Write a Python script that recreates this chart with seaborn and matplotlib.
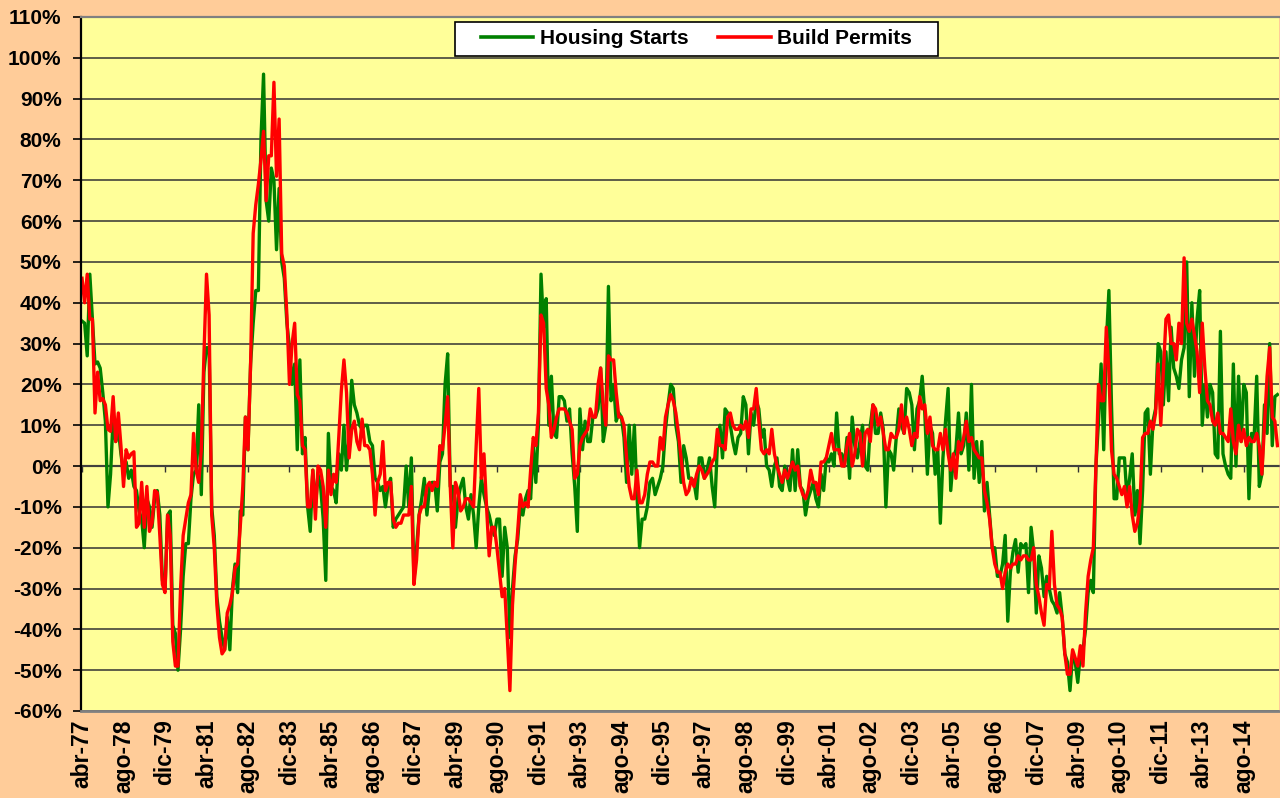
import numpy as np
import pandas as pd
import seaborn as sns
import matplotlib.pyplot as plt
from matplotlib.patches import Rectangle

# year-on-year change (%), monthly, abr-77 .. sep-15
tick_labels = ['abr-77', 'ago-78', 'dic-79', 'abr-81', 'ago-82', 'dic-83', 'abr-85',
               'ago-86', 'dic-87', 'abr-89', 'ago-90', 'dic-91', 'abr-93', 'ago-94',
               'dic-95', 'abr-97', 'ago-98', 'dic-99', 'abr-01', 'ago-02', 'dic-03',
               'abr-05', 'ago-06', 'dic-07', 'abr-09', 'ago-10', 'dic-11', 'abr-13',
               'ago-14']

housing_starts = [
    35.5, 35, 27, 47, 36, 25, 25.5, 24, 18, 11, -10, -2,
    12, 6, 9, 3, -2, 1, -3, -1, -5, -6, -11, -13,
    -20, -8, -10, -15, -8, -6, -12, -28, -30, -12, -11, -39,
    -41, -50, -40, -27, -19, -19, -8, -2, -1, 15, -7, 23,
    29, 29, -10, -17, -32, -38, -42, -45, -37, -45, -30, -24,
    -31, -11, -12, 12, 4, 25, 35, 43, 43, 80, 96, 65,
    60, 73, 70, 53, 68, 50, 46, 35, 29, 20, 25, 4,
    26, 3, 7, -10, -16, -1, -10, -2, -5, -13, -28, 8,
    -5, -6, -9, 3, -1, 10, -1, 7, 21, 15, 13, 10,
    9, 10, 10, 6, 5, -3, -4, -6, -5, -10, -5, -3,
    -15, -13, -12, -11, -10, 0, -10, 2, -28, -20, -12, -8,
    -3, -12, -5, -4, -4, -11, 1, 3, 20, 27.5, -5, -5,
    -15, -8, -5, -3, -10, -13, -7, -12, -20, -10, -3, -7,
    -10, -12, -15, -17, -13, -13, -27, -15, -20, -42, -30, -22,
    -18, -10, -12, -8, -6, -8, 5, -4, 10, 47, 34, 41,
    10, 22, 8, 7, 17, 17, 16, 11, 14, 3, -5, -16,
    14, 4, 11, 6, 6, 12, 12, 14, 24, 6, 10, 44,
    16, 20, 11, 13, 12, 7, -4, 10, -2, 10, -7, -20,
    -13, -13, -10, -4, -3, -7, -5, -3, 0, 9, 15, 20,
    19, 10, 6, -4, 5, 2, -3, -3, -4, -8, 2, 2,
    -3, -1, 2, -5, -10, 5, 10, 2, 14, 13, 10, 6,
    3, 7, 8, 17, 15, 3, 13, 10, 16, 14, 7, 9,
    0, -1, -5, 0, 2, -5, -6, 0, -3, -6, 4, -6,
    4, -5, -6, -12, -8, -6, -4, -8, -10, -2, -6, 2,
    1, 3, 0, 13, 3, 3, 0, 7, -3, 12, 5, 2,
    6, 10, 0, -1, 10, 15, 8, 8, 13, 9, -10, 4,
    3, -1, 7, 14, 10, 8, 19, 18, 15, 4, 14, 16,
    22, 13, -2, 10, 8, -2, 4, -14, 2, 11, 19, -6,
    2, 4, 13, 3, 5, 13, -1, 20, -3, 6, -4, 6,
    -11, -4, -12, -20, -20, -27, -27, -24, -17, -38, -26, -21,
    -18, -26, -19, -20, -19, -31, -15, -21, -36, -22, -25, -32,
    -27, -30, -33, -34, -36, -31, -37, -46, -48, -55, -46, -48,
    -53, -46, -45, -40, -31, -28, -31, 0, 11, 25, 4, 30,
    43, 15, -8, -8, 2, 2, 2, -8, -3, 3, -12, -6,
    -19, -6, 13, 14, -2, 11, 14, 30, 28, 15, 28, 16,
    34, 24, 22, 19, 26, 29, 50, 17, 40, 22, 36, 43,
    10, 20, 12, 20, 18, 3, 2, 33, 3, 0, -2, -3,
    25, 0, 22, 6, 20, 18, -8, 8, 7, 22, -5, -2,
    15, 8, 30, 5, 17, 17.5,
]

build_permits = [
    46, 40, 47, 36, 36, 13, 23, 16, 16.5, 15, 9, 8.5,
    17, 6, 13, 5, -5, 4, 2, 3, 3.5, -15, -14, -4,
    -15, -5, -16, -14, -6, -6.5, -17, -29, -31, -12, -17, -43,
    -49, -49, -30, -17, -13, -9, -7, 8, -1, -4, 4, 27,
    47, 37, -12, -20, -34, -42, -46, -45, -36, -34, -31, -25,
    -24, -15, -5, 12, 4, 25, 57, 64, 69, 75, 82, 65,
    76, 76, 94, 71, 85, 52, 49, 37, 20, 30, 35, 17.5,
    16, 5, 4, -10, -10, -1, -13, 0, -1, -5, -15, -1,
    -7, -2, -4, 7, 18.5, 26, 18, 2, 9, 11, 6, 4,
    11.5, 5, 5, 4, -2, -12, -4, -2, 6, -6, -4, -4,
    -13, -15, -14, -14, -12, -12, -12, -5, -29, -23, -12, -10,
    -10, -5, -4, -6, -4, -5, 5, 4, 10, 17, -5, -20,
    -4, -6, -11, -10, -8, -8, -9, -10, 5, 19, -3, 3,
    -10, -22, -15, -15, -20, -26, -32, -30, -42, -55, -34, -24,
    -16, -7, -10, -9, -10, -1, 7, 5, 13, 37, 35, 19,
    15, 7, 9, 12, 14, 14, 14, 13, 11, 9, -3, -2,
    5, 7, 8, 9, 14, 12, 12, 20, 24, 15, 10, 27,
    26, 26, 18, 12, 12, 10, 2, -5, -8, -8, -1, -9,
    -9, -7, -2, 1, 1, 0, 0, 7, 4, 12, 15, 17.5,
    16, 13, 8, 2, -4, -7, -6, -3, -5, -2, 0, -1,
    -3, -2, -1, 1, 2, 9, 5, 5, 4, 12, 13, 10,
    9, 9, 10, 9, 11, 7, 14, 14, 19, 11, 4, 3,
    4, 3, 9, 3, 0, -2, -4, -1, -3, -1, 1, -1,
    0, -5, -7, -8, -6, -1, -4, -4, -7, 1, 1, 2,
    5, 8, 4, 4, 4, 0, 0, 5, 8, 0, 3, 9,
    8, 0, 8, 9, 6, 15, 14, 10, 12, 8, 4, 4,
    8, 7, 7, 9, 15, 8, 12, 9, 5, 8, 7, 17,
    14, 15, 8, 12, 5, 4, 4, 8, 4, 9, 3, -1,
    3, -3, 6, 4, 7, 11, 6, 7, 4, 3, 2, 2,
    -6, -9, -13, -20, -24, -26, -26, -30, -26, -24, -25, -24,
    -24, -22, -23, -22, -22, -23, -23, -20, -29, -32, -36, -39,
    -29, -30, -16, -29, -34, -35, -37, -46, -51, -51, -45, -47,
    -49, -44, -49, -36, -27, -23, -20, 0, 20, 16, 16, 34,
    23, 4, -2, -3, -5, -7, -5, -10, -5, -12, -16, -14,
    -9, 7, 8, 8, 11, 9, 13, 25, 10, 23, 36, 37,
    30, 30, 26, 35, 30, 51, 35, 33, 36, 32, 28, 18,
    35, 24, 16, 15, 11, 10, 13, 8, 8, 7, 6, 14,
    6, 3, 10, 6, 9, 5, 7, 6, 6, 8, 5, -2,
    10, 22, 29, 12, 11, 5,
]

n = len(housing_starts)
months = np.arange(n)
df = pd.DataFrame({
    'month': np.concatenate([months, months]),
    'pct': housing_starts + build_permits,
    'series': ['Housing Starts'] * n + ['Build Permits'] * n,
})
tick_pos = np.arange(len(tick_labels)) * 16

plt.rcParams['font.family'] = ['Liberation Sans', 'DejaVu Sans']
plt.rcParams['font.weight'] = 'bold'

fig = plt.figure(figsize=(12.8, 7.98), dpi=100, facecolor='#FFCC99')
ax = fig.add_axes([81 / 1280, 1 - 711 / 798, 1198 / 1280, 694 / 798])
ax.set_facecolor('#FFFF99')

sns.lineplot(data=df, x='month', y='pct', hue='series',
             palette={'Housing Starts': '#008000', 'Build Permits': '#FF0000'},
             linewidth=2.4, ax=ax)

ax.set_xlim(-0.4, 461.6)
ax.set_ylim(-60, 110)
ax.set_yticks(range(-60, 111, 10))
ax.set_yticklabels([f'{v}%' for v in range(-60, 111, 10)], fontsize=15, fontweight='bold')
ax.set_xticks(tick_pos)
ax.set_xticklabels(tick_labels, rotation=90, fontsize=16.5, fontweight='bold')
ax.tick_params(axis='x', length=0, pad=6)
ax.tick_params(axis='y', length=6, width=1.2, color='black', pad=8)
ax.set_xlabel('')
ax.set_ylabel('')

ax.yaxis.grid(True, color='#333333', lw=1.1)
ax.xaxis.grid(False)
ax.set_axisbelow(True)

ax.spines['left'].set_color('black')
ax.spines['left'].set_linewidth(1.6)
ax.spines['top'].set_color('#808080')
ax.spines['top'].set_linewidth(1.6)
ax.spines['bottom'].set_color('#808080')
ax.spines['bottom'].set_linewidth(2)
ax.spines['right'].set_visible(False)

# category axis crossing at 0%
zero = ax.secondary_xaxis(60 / 170)
zero.set_xticks(tick_pos)
zero.tick_params(axis='x', direction='out', length=4, width=1, color='#333333',
                 labelbottom=False, labeltop=False)
zero.spines['bottom'].set_color('#707060')
zero.spines['bottom'].set_linewidth(1.6)

# legend box (white, black border) with the legend centred inside it
box_x0, box_x1 = (455 - 81) / 1198, (938 - 81) / 1198
box_y0, box_y1 = (711 - 56) / 694, (711 - 22) / 694
ax.add_patch(Rectangle((box_x0, box_y0), box_x1 - box_x0, box_y1 - box_y0,
                       transform=ax.transAxes, facecolor='white', edgecolor='black',
                       lw=1.2, zorder=5))
handles, labels = ax.get_legend_handles_labels()
leg = ax.legend(handles, labels, loc='center',
                bbox_to_anchor=((box_x0 + box_x1) / 2, (box_y0 + box_y1) / 2),
                ncol=2, frameon=False, prop={'weight': 'bold', 'size': 15},
                handlelength=2.5, handletextpad=0.3, columnspacing=1.45,
                borderpad=0, borderaxespad=0)
leg.set_zorder(6)
for line in leg.get_lines():
    line.set_linewidth(2.6)

fig.savefig('out.png', dpi=100, facecolor=fig.get_facecolor())
